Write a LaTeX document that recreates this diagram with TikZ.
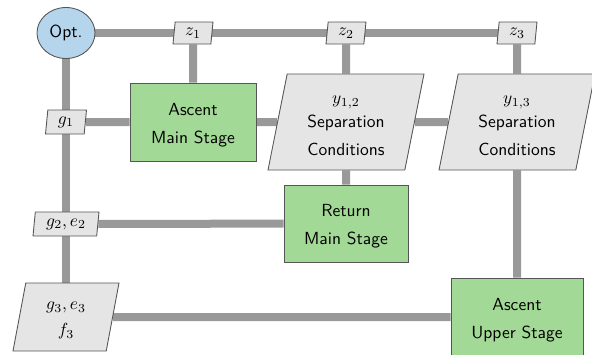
\documentclass[tikz,border=0pt]{standalone}
\usetikzlibrary{shapes.geometric,backgrounds}
\definecolor{optblue}{HTML}{B5D5EC}
\definecolor{stagegreen}{HTML}{A3D996}
\definecolor{varfill}{HTML}{E5E5E5}
\definecolor{linkgray}{HTML}{999999}
\definecolor{edgegray}{HTML}{555555}
\def\pu{0.5714pt}
\newcommand\topstrut[1]{\rule{0pt}{#1}}
\tikzset{
  base/.style={draw=edgegray, line width=0.5pt, font=\sffamily, inner sep=0pt, align=center},
  optnode/.style={base, ellipse, fill=optblue, minimum width={58*\pu}, minimum height={51*\pu}},
  stagebox/.style={base, rectangle, fill=stagegreen},
  varbox/.style={base, trapezium, trapezium left angle=78, trapezium right angle=102,
     trapezium stretches body, fill=varfill},
  bigvar/.style={base, trapezium, trapezium left angle=74, trapezium right angle=106,
     trapezium stretches body, fill=varfill},
  link/.style={draw=linkgray, line width={8*\pu}},
}
\begin{document}
\begin{tikzpicture}[x=\pu, y=-\pu]
\useasboundingbox (0,0) rectangle (592,354);
\node[optnode] (opt) at (66,33) {Opt.};
\node[varbox, minimum width={40*\pu}, minimum height={22*\pu}] (z1) at (193,33) {$z_1$};
\node[varbox, minimum width={40*\pu}, minimum height={22*\pu}] (z2) at (346,33) {$z_2$};
\node[varbox, minimum width={40*\pu}, minimum height={22*\pu}] (z3) at (517,33) {$z_3$};
\node[varbox, minimum width={41*\pu}, minimum height={24*\pu}] (g1) at (66,122) {$g_1$};
\node[varbox, minimum width={66*\pu}, minimum height={24*\pu}] (g2) at (66,224) {$g_2, e_2$};
\node[bigvar, minimum width={106*\pu}, minimum height={68*\pu}] (g3) at (66,317) {\topstrut{8.5pt}$g_3, e_3$\\[3pt]$f_3$};
\node[stagebox, minimum width={126*\pu}, minimum height={78*\pu}] (ams) at (193,122) {\topstrut{10.3pt}Ascent\\[4pt]Main Stage};
\node[bigvar, minimum width={156*\pu}, minimum height={96*\pu}] (sep1) at (346,122) {\topstrut{8.6pt}$y_{1,2}$\\[1.5pt]Separation\\[4pt]Conditions};
\node[bigvar, minimum width={156*\pu}, minimum height={96*\pu}] (sep2) at (517,122) {\topstrut{8.6pt}$y_{1,3}$\\[1.5pt]Separation\\[4pt]Conditions};
\node[stagebox, minimum width={124*\pu}, minimum height={77*\pu}] (rms) at (346,223.5) {\topstrut{10.3pt}Return\\[4pt]Main Stage};
\node[stagebox, minimum width={132*\pu}, minimum height={78*\pu}] (aus) at (517,317) {\topstrut{10.3pt}Ascent\\[4pt]Upper Stage};
\begin{pgfonlayer}{background}
\draw[link] (opt.center) -- (z1.center) -- (z2.center) -- (z3.center);
\draw[link] (opt.center) -- (g1.center) -- (g2.center) -- (g3.center);
\draw[link] (z1) -- (ams);
\draw[link] (g1) -- (ams);
\draw[link] (ams) -- (sep1);
\draw[link] (sep1) -- (sep2);
\draw[link] (z2) -- (sep1);
\draw[link] (z3) -- (sep2);
\draw[link] (sep1) -- (rms);
\draw[link] (g2) -- (rms);
\draw[link] (sep2) -- (aus);
\draw[link] (g3) -- (aus);
\end{pgfonlayer}
\end{tikzpicture}
\end{document}
